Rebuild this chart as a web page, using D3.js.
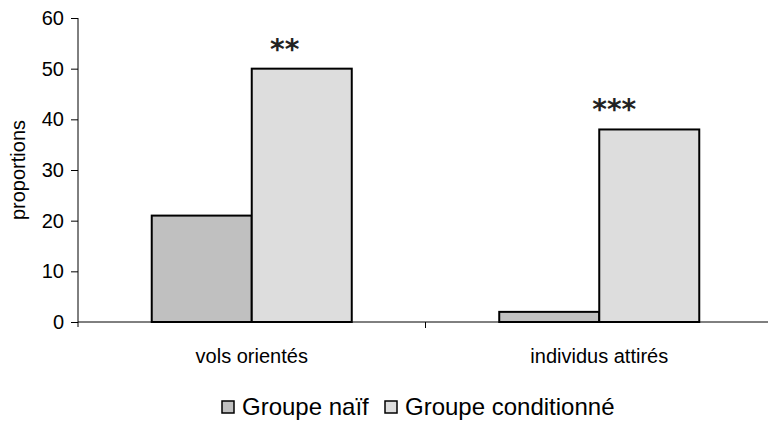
<!DOCTYPE html>
<html><head><meta charset="utf-8">
<script src="https://cdn.jsdelivr.net/npm/d3@7"></script>
<style>
html,body{margin:0;padding:0;background:#fff;}
svg{display:block;font-family:"Liberation Sans",Arial,sans-serif;}
</style></head>
<body><svg id="c" width="768" height="421"></svg>
<script>
const categories = ["vols orientés", "individus attirés"];
const seriesNames = ["Groupe naïf", "Groupe conditionné"];
const naive = [21, 2];
const conditioned = [50, 38];
const significance = ["**", "***"];
const yTicks = [0, 10, 20, 30, 40, 50, 60];
const yLabel = "proportions";

const colors = ["#c0c0c0", "#dddddd"];
const svg = d3.select("#c");
const x0 = 78, x1e = 773, yTop = 18, yBot = 322;

const y = d3.scaleLinear().domain([0, 60]).range([yBot, yTop]);
const x = d3.scaleBand().domain(categories).range([x0, x1e]).padding(0);
const bw = x.bandwidth();
const xs = d3.scaleBand().domain(seriesNames).range([bw * 0.2122, bw * 0.7878]).padding(0);

const values = [naive, conditioned];

// bars
categories.forEach((c, ci) => {
  seriesNames.forEach((s, si) => {
    svg.append("rect")
      .attr("x", x(c) + xs(s))
      .attr("y", y(values[si][ci]))
      .attr("width", xs.bandwidth())
      .attr("height", y(0) - y(values[si][ci]))
      .attr("fill", colors[si])
      .attr("stroke", "#000")
      .attr("stroke-width", 2);
  });
});

// y axis
const ya = svg.append("g").attr("transform", `translate(${x0},0)`)
  .call(d3.axisLeft(y).tickValues(yTicks).tickSize(7).tickPadding(7).tickFormat(d3.format("d")));
ya.select(".domain").attr("d", `M0,${yTop}V${yBot + 5}`).attr("stroke", "#000");
ya.selectAll("text").attr("font-size", 20).attr("font-family", "Liberation Sans, Arial, sans-serif").attr("fill", "#000");
ya.selectAll("line").attr("stroke", "#000");

// x axis
svg.append("line").attr("x1", x0).attr("x2", x1e).attr("y1", yBot).attr("y2", yBot).attr("stroke", "#000");
[categories[1]].forEach(c => {
  svg.append("line").attr("x1", x(c)).attr("x2", x(c)).attr("y1", yBot).attr("y2", yBot + 6).attr("stroke", "#000");
});
categories.forEach(c => {
  svg.append("text").attr("x", x(c) + bw / 2).attr("y", 363)
    .attr("text-anchor", "middle").attr("font-size", 20).text(c);
});

// y label
svg.append("text").attr("transform", "translate(25,170) rotate(-90)")
  .attr("text-anchor", "middle").attr("font-size", 20).text(yLabel);

// significance stars
const starOffsets = [33, 15];
categories.forEach((c, ci) => {
  const bx = x(c) + xs(seriesNames[1]);
  svg.append("text").attr("x", bx + starOffsets[ci]).attr("y", y(conditioned[ci]) - 10)
    .attr("text-anchor", "middle").attr("font-size", 28).attr("font-weight", "bold")
    .attr("font-family", "DejaVu Sans, sans-serif")
    .attr("fill", "#222").text(significance[ci]);
});

// legend
const lg = svg.append("g");
const legendX = [222, 385];
seriesNames.forEach((s, si) => {
  lg.append("rect").attr("x", legendX[si]).attr("y", 401).attr("width", 12).attr("height", 12)
    .attr("fill", colors[si]).attr("stroke", "#000").attr("stroke-width", 1.5);
  lg.append("text").attr("x", legendX[si] + 20).attr("y", 415).attr("font-size", 24).text(s);
});
</script></body></html>
